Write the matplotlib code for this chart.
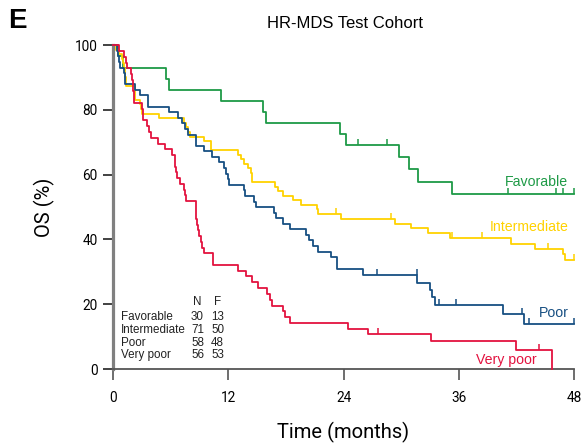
import numpy as np
import matplotlib
matplotlib.use("Agg")
import matplotlib.pyplot as plt
from matplotlib.path import Path

# Kaplan-Meier step data: time of each drop (months) and OS (%) after it

fav_t = [0.5, 1.0, 5.5, 5.8, 11.2, 15.6, 15.9, 23.6, 24.3, 29.8, 30.8, 31.8, 35.3]
fav_s = [96.7, 93.0, 89.7, 86.2, 82.8, 79.5, 76.0, 72.7, 69.3, 65.5, 61.7, 57.8, 54.0]
fav_cens = [25.5, 28.5, 41.1, 46.1, 46.9, 48.0]

int_t = [0.3, 0.6, 0.9, 1.0, 1.1, 1.2, 1.3, 1.35, 1.4, 2.25, 2.28, 2.3, 2.8, 2.95, 3.0,
         4.8, 7.4, 7.6, 7.8, 8.0, 9.5, 10.2, 10.25, 13.05, 13.3, 13.6, 14.1, 14.4, 14.45,
         14.5, 16.9, 17.2, 17.7, 18.7, 19.6, 21.2, 21.3, 23.7, 29.4, 31.0, 32.8, 35.1,
         41.4, 43.9, 46.8, 47.1]
int_s = [98.6, 97.2, 95.8, 94.4, 93.0, 91.5, 90.1, 88.7, 87.3, 85.9, 84.5, 83.1, 81.7, 80.3, 78.9,
         77.5, 76.1, 74.6, 73.2, 71.8, 70.4, 69.0, 67.6, 66.2, 64.8, 63.4, 62.0, 60.6, 59.2,
         57.7, 56.3, 54.9, 53.5, 52.1, 50.7, 49.3, 47.9, 46.4, 44.9, 43.4, 42.0, 40.5,
         38.7, 37.0, 35.4, 33.6]
int_cens = [23.2, 28.9, 35.3, 38.4, 45.3, 48.0]

poor_t = [0.4, 0.5, 0.6, 0.7, 1.15, 1.2, 1.3, 2.3, 2.85, 3.6, 3.65, 5.83, 6.8, 7.2, 7.5,
          7.84, 8.6, 8.65, 9.5, 10.3, 11.0, 11.6, 11.8, 12.0, 12.05, 13.6, 13.75, 14.7, 14.9,
          16.8, 17.0, 17.7, 18.4, 20.1, 20.4, 20.8, 21.3, 22.7, 23.3, 23.35, 26.0,
          31.7, 33.0, 33.2, 33.5, 40.6, 42.8]
poor_s = [98.3, 96.6, 94.8, 93.1, 91.4, 89.7, 87.9, 86.2, 84.5, 82.8, 81.0, 79.3, 77.6, 75.9, 74.1,
          72.4, 70.7, 69.0, 67.2, 65.5, 63.8, 62.1, 60.3, 58.6, 56.9, 55.2, 53.4, 51.7, 50.0,
          48.3, 46.6, 44.8, 43.1, 41.4, 39.7, 37.9, 36.2, 34.5, 32.8, 31.0, 29.0,
          26.6, 24.3, 22.3, 19.9, 17.1, 13.8]
poor_cens = [27.5, 31.6, 33.9, 35.7, 42.6, 43.3, 48.0]

vp_t = [0.66, 1.15, 1.35, 1.5, 1.84, 2.0, 2.05, 2.1, 2.15, 2.2, 3.05, 3.1, 3.15, 3.5, 3.7,
        3.95, 4.7, 5.4, 6.1, 6.45, 6.5, 6.55, 6.7, 7.0, 7.35, 7.5, 7.65, 8.6, 8.62, 8.65,
        8.7, 8.8, 9.0, 9.2, 9.25, 9.5, 10.4, 10.45, 13.0, 13.85, 14.5, 15.1, 16.0, 16.35,
        16.6, 17.7, 17.9, 18.4, 24.5, 26.5, 33.1, 42.0, 45.7]
vp_s = [98.2, 96.4, 94.6, 92.9, 91.1, 89.3, 87.5, 85.7, 83.9, 82.1, 80.4, 78.6, 76.8, 75.0, 73.2,
        71.4, 69.6, 67.9, 66.1, 64.3, 62.5, 60.7, 58.9, 57.1, 55.4, 53.6, 51.8, 50.0, 48.2, 46.4,
        44.6, 42.9, 41.1, 39.3, 37.5, 35.7, 33.9, 32.1, 30.4, 28.6, 26.8, 25.0, 23.2, 21.4,
        19.6, 17.9, 16.1, 14.3, 12.5, 10.7, 8.6, 5.8, 0.0]
vp_cens = [27.6, 44.4]

groups = ["Favorable", "Intermediate", "Poor", "Very poor"]
n_pts = [30, 71, 58, 56]
n_fail = [13, 50, 48, 53]
colors = ["#1e9a46", "#ffd200", "#174f82", "#e3123f"]

curves = [(fav_t, fav_s, fav_cens, 48), (int_t, int_s, int_cens, 48),
          (poor_t, poor_s, poor_cens, 48), (vp_t, vp_s, vp_cens, 45.7)]


def level(t, times, surv):
    i = np.searchsorted(times, t, side="right")
    return 100.0 if i == 0 else surv[i - 1]


# censor tick: short vertical stroke going up from the curve
tick_marker = Path([(0, 0), (0, 1)], [Path.MOVETO, Path.LINETO])

fig = plt.figure(figsize=(5.81, 4.43), dpi=100)
ax = fig.add_axes([0.1945, 0.167, 0.7935, 0.731])

for (times, surv, cens, tend), col in zip(curves, colors):
    x = [0] + list(times) + [tend]
    y = [100] + list(surv) + [surv[-1]]
    ax.step(x, y, where="post", color=col, lw=1.3, clip_on=False, zorder=3)
    cy = [level(c, times, surv) for c in cens]
    ax.plot(cens, cy, ls="none", marker=tick_marker, ms=8, mew=1.1, color=col,
            clip_on=False, zorder=3)

ax.set_xlim(0, 48)
ax.set_ylim(0, 100)
ax.set_xticks([0, 12, 24, 36, 48])
ax.set_yticks([0, 20, 40, 60, 80, 100])

for s in ["top", "right"]:
    ax.spines[s].set_visible(False)
ax.spines["left"].set_color("#808080")
ax.spines["left"].set_linewidth(2.3)
ax.spines["bottom"].set_color("#555555")
ax.spines["bottom"].set_linewidth(1.3)
ax.tick_params(axis="y", direction="out", length=7, width=1.2, color="#222222",
               labelsize=9.8, pad=4)
ax.tick_params(axis="x", direction="out", length=8, width=1.2, color="#555555",
               labelsize=9.8, pad=8)
for lab in ax.get_xticklabels() + ax.get_yticklabels():
    lab.set_family("Roboto")

ax.set_xlabel("Time (months)", family="Roboto", fontsize=14.5, labelpad=12)
ax.set_ylabel("OS (%)", family="Roboto", fontsize=14.5, labelpad=14)

fig.text(0.593, 0.947, "HR-MDS Test Cohort", family="Liberation Sans", fontsize=12,
         ha="center", va="center")
fig.text(0.014, 0.953, "E", family="Liberation Sans", fontweight="bold", fontsize=20,
         ha="left", va="center")

# curve labels
lab_pos = [(47.4, 57.6), (47.4, 43.8), (47.4, 17.2), (44.1, 2.9)]
for (lx, ly), g, col in zip(lab_pos, groups, colors):
    ax.text(lx, ly, g, color=col, fontsize=10.2, family="Liberation Sans", ha="right", va="center")

# N / F table
row_y = [16.0, 12.1, 8.1, 4.2]
txt = dict(fontsize=8.4, family="Liberation Sans", color="#222222", va="center")
ax.text(8.8, 20.6, "N", ha="center", **txt)
ax.text(10.9, 20.6, "F", ha="center", **txt)
for g, n, f, ry in zip(groups, n_pts, n_fail, row_y):
    ax.text(0.8, ry, g, ha="left", **txt)
    ax.text(8.8, ry, str(n), ha="center", **txt)
    ax.text(10.9, ry, str(f), ha="center", **txt)

fig.savefig("out.png", dpi=100)
